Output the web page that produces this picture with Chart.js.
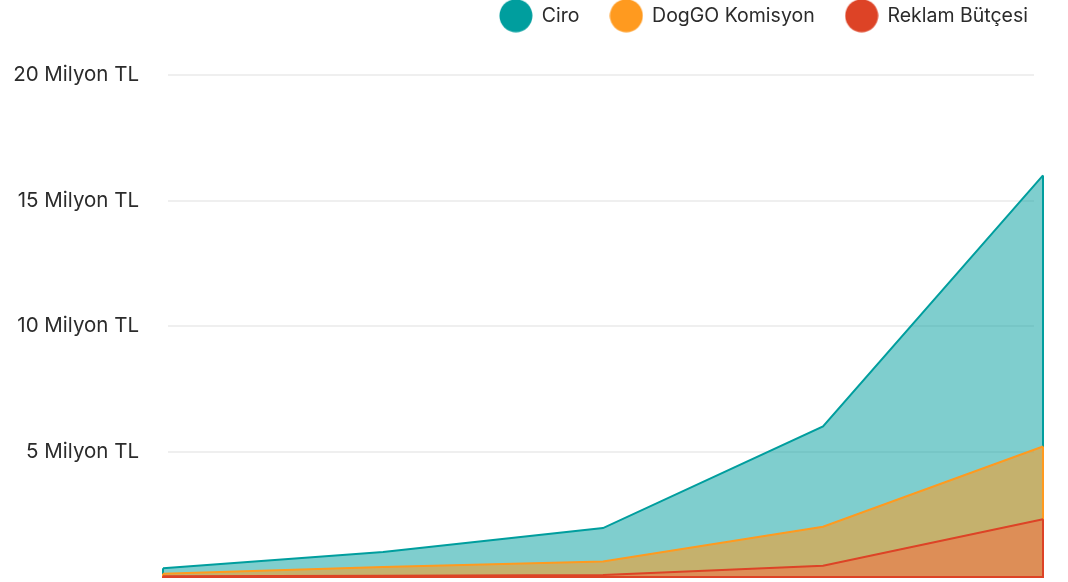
<!DOCTYPE html>
<html>
<head>
<meta charset="utf-8">
<script src="https://cdn.jsdelivr.net/npm/chart.js@4"></script>
<style>
  html, body { margin: 0; padding: 0; background: #fff; overflow: hidden; }
  /* legend sits partly above the visible frame, so the canvas starts a bit higher */
  #wrap { width: 1068px; height: 607px; margin-top: -25px; }
</style>
</head>
<body>
<div id="wrap"><canvas id="chart"></canvas></div>
<script>
// data (TL)
const periods = ['1. Yıl', '2. Yıl', '3. Yıl', '4. Yıl', '5. Yıl'];
const ciro = [350000, 1000000, 1950000, 6000000, 16000000];
const komisyon = [130000, 400000, 620000, 2000000, 5200000];
const reklam = [30000, 50000, 80000, 450000, 2300000];
const seriesNames = ['Ciro', 'DogGO Komisyon', 'Reklam Bütçesi'];
const yTicks = [0, 5000000, 10000000, 15000000, 20000000];

const colors = ['#009E9E', '#FF9A1F', '#DD4326'];
const fills = ['rgba(0,158,158,0.5)', 'rgba(255,154,31,0.55)', 'rgba(245,108,66,0.5)'];

// round legend markers
function dot(color) {
  const c = document.createElement('canvas');
  c.width = 34; c.height = 34;
  const g = c.getContext('2d');
  g.fillStyle = color;
  g.beginPath();
  g.arc(17, 17, 16.5, 0, Math.PI * 2);
  g.fill();
  return c;
}

// closes each area with its own border (sides + baseline)
const areaEdges = {
  id: 'areaEdges',
  afterDatasetDraw(chart, args) {
    const pts = args.meta.data;
    if (!pts.length) return;
    const ds = chart.data.datasets[args.index];
    const base = chart.scales.y.getPixelForValue(0);
    const first = pts[0], last = pts[pts.length - 1];
    const ctx = chart.ctx;
    ctx.save();
    ctx.strokeStyle = ds.borderColor;
    ctx.lineWidth = 2;
    ctx.beginPath();
    ctx.moveTo(last.x, last.y);
    ctx.lineTo(last.x, base);
    ctx.lineTo(first.x, base);
    ctx.lineTo(first.x, first.y);
    ctx.stroke();
    ctx.restore();
  }
};

// horizontal grid, a bit inset from the plot edges
const insetGrid = {
  id: 'insetGrid',
  beforeDatasetsDraw(chart) {
    const y = chart.scales.y, area = chart.chartArea, ctx = chart.ctx;
    ctx.save();
    ctx.strokeStyle = '#EFEFEF';
    ctx.lineWidth = 2;
    y.ticks.forEach(t => {
      if (t.value === 0) return;
      const py = Math.round(y.getPixelForValue(t.value));
      ctx.beginPath();
      ctx.moveTo(area.left + 5, py);
      ctx.lineTo(area.right - 9, py);
      ctx.stroke();
    });
    ctx.restore();
  }
};

const allValues = [ciro, komisyon, reklam];

new Chart(document.getElementById('chart'), {
  type: 'line',
  data: {
    labels: periods,
    datasets: allValues.map((vals, i) => ({
      label: seriesNames[i],
      data: vals,
      borderColor: colors[i],
      backgroundColor: fills[i],
      borderWidth: 2,
      fill: 'origin',
      tension: 0,
      pointRadius: 0,
      pointHoverRadius: 0,
      pointStyle: dot(colors[i]),
      order: 3 - i
    }))
  },
  options: {
    responsive: true,
    maintainAspectRatio: false,
    animation: false,
    layout: { padding: { top: 0, right: 9, bottom: 5, left: 0 } },
    plugins: {
      tooltip: { enabled: false },
      legend: {
        position: 'top',
        align: 'end',
        labels: {
          usePointStyle: true,
          pointStyleWidth: 32,
          padding: 31,
          color: '#2b2b2b',
          font: { family: 'Inter', size: 19.5 },
          sort: (a, b) => a.datasetIndex - b.datasetIndex
        }
      }
    },
    scales: {
      x: {
        position: 'top',
        grid: { display: false, drawTicks: false },
        border: { display: false },
        ticks: { display: false },
        afterFit: s => { s.height = 39.5; }
      },
      y: {
        min: 0,
        max: 20000000,
        afterBuildTicks: s => { s.ticks = yTicks.map(v => ({ value: v })); },
        grid: { display: false, drawTicks: false },
        border: { display: false },
        ticks: {
          padding: 24,
          color: '#2b2b2b',
          font: { family: 'Inter', size: 20.5 },
          callback: v => v === 0 ? '' : (v / 1000000) + ' Milyon TL'
        },
        afterFit: s => { s.width = 163; s.paddingTop = 0; s.paddingBottom = 0; }
      },
      y2: {
        position: 'right',
        grid: { display: false, drawTicks: false },
        border: { display: false },
        ticks: { display: false },
        afterFit: s => { s.width = 16; }
      }
    }
  },
  plugins: [insetGrid, areaEdges]
});
</script>
</body>
</html>
